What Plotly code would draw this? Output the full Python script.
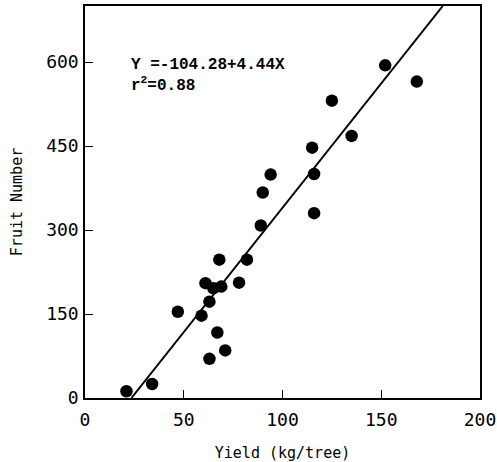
import plotly.graph_objects as go

# Data
yield_kg = [21, 34, 47, 59, 61, 63, 63, 65, 67, 68, 69, 71, 78, 82, 89, 90, 94,
            115, 116, 116, 125, 135, 152, 168]
fruit_num = [12, 25, 154, 147, 205, 172, 70, 196, 117, 247, 199, 85, 206, 247, 308, 367, 399,
             447, 400, 330, 531, 468, 594, 565]

fit_intercept = -104.28
fit_slope = 4.44
fit_r2 = 0.88

x_range = [0, 200]
y_range = [0, 700]
x_ticks = [0, 50, 100, 150, 200]
y_ticks = [0, 150, 300, 450, 600]

# fitted line spans from y=0 to the top of the plot
line_x = [(y_range[0] - fit_intercept) / fit_slope, (y_range[1] - fit_intercept) / fit_slope]
line_y = [fit_intercept + fit_slope * x for x in line_x]

fig = go.Figure()
fig.add_trace(go.Scatter(x=line_x, y=line_y, mode="lines",
                         line=dict(color="black", width=2), showlegend=False, hoverinfo="skip"))
fig.add_trace(go.Scatter(x=yield_kg, y=fruit_num, mode="markers",
                         marker=dict(color="black", size=12.5), showlegend=False))

FONT = "DejaVu Sans Mono, monospace"
axis_common = dict(showline=True, linecolor="black", linewidth=1.5, mirror=True,
                   ticks="inside", ticklen=8, tickwidth=1.2, tickcolor="black",
                   showgrid=False, zeroline=False, automargin=False,
                   tickfont=dict(family=FONT, size=18, color="black"))

fig.update_xaxes(range=x_range, tickvals=x_ticks, ticklabelstandoff=5, **axis_common,
                 title=dict(text="Yield (kg/tree)", standoff=18,
                            font=dict(family=FONT, size=15, color="black")))
fig.update_yaxes(range=y_range, tickvals=y_ticks, ticklabelstandoff=1, **axis_common,
                 title=dict(text="Fruit Number", standoff=20,
                            font=dict(family=FONT, size=15, color="black")))

ann_font = dict(family="Liberation Mono, Courier New, monospace", size=16, color="black")
fig.add_annotation(x=0, y=1, xref="paper", yref="paper", xanchor="left", yanchor="middle",
                   xshift=44, yshift=-59, showarrow=False,
                   text=f"<b>Y ={fit_intercept}+{fit_slope}X</b>", font=ann_font)
fig.add_annotation(x=0, y=1, xref="paper", yref="paper", xanchor="left", yanchor="middle",
                   xshift=44, yshift=-78, showarrow=False,
                   text=f"<b>r<sup>2</sup>={fit_r2:.2f}</b>", font=ann_font)

fig.update_layout(width=497, height=462, margin=dict(l=85, r=17, t=6, b=64),
                  plot_bgcolor="white", paper_bgcolor="white")

fig.write_html("out.html", post_script="document.body.style.margin='0';",
               config={"displayModeBar": False})
